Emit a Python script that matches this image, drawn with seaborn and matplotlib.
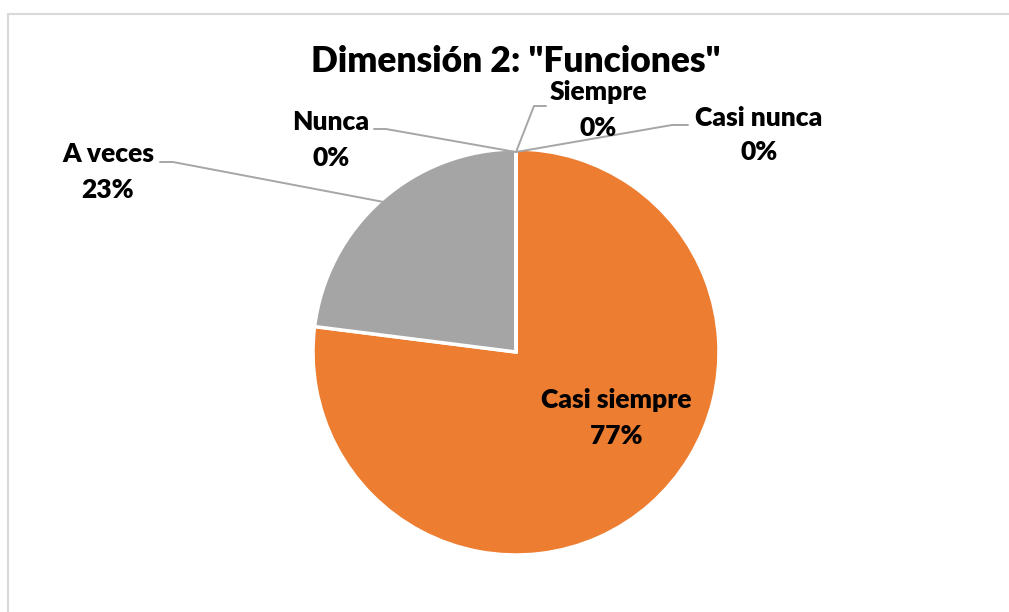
import numpy as np
import matplotlib
matplotlib.use("Agg")
import matplotlib.pyplot as plt
import seaborn as sns
from matplotlib.patches import Rectangle

categories = ["Siempre", "Casi siempre", "A veces", "Casi nunca", "Nunca"]
values = [0, 77, 23, 0, 0]
pct_labels = ["0%", "77%", "23%", "0%", "0%"]
colors = ["#4472C4", "#ED7D31", "#A5A5A5", "#FFC000", "#5B9BD5"]
title = 'Dimensión 2: "Funciones"'

sns.set_theme(style="white")
plt.rcParams["font.family"] = ["Lato", "DejaVu Sans"]

W, H = 1009, 612
fig = plt.figure(figsize=(W / 100, H / 100), dpi=100)
ax = fig.add_axes([0, 0, 1, 1])

# chart border
fig.patches.append(Rectangle((8 / W, -0.1), 1.2, (H - 14) / H + 0.1, transform=fig.transFigure,
                             fill=False, edgecolor="#D9D9D9", linewidth=1.5))

cx, cy, r = 516, H - 352, 203
wedges, _ = ax.pie(values, colors=colors, startangle=90, counterclock=False,
                   center=(cx, cy), radius=r, normalize=True,
                   wedgeprops=dict(edgecolor="white", linewidth=2.5))
ax.set_xlim(0, W)
ax.set_ylim(0, H)
ax.set_aspect("equal")
ax.axis("off")

def px(x, y):
    return x, H - y

ax.text(*px(516, 61), title, ha="center", va="center", fontsize=25.5, fontweight="heavy", color="black")

def mid_point(w, frac=1.0):
    a = np.deg2rad((w.theta1 + w.theta2) / 2)
    return cx + frac * r * np.cos(a), cy + frac * r * np.sin(a)

lab_fs = 19
line_kw = dict(color="#A6A6A6", linewidth=1.4, zorder=1)
label_pos = {
    "Siempre": (598, 110),
    "Casi siempre": (616, 418),
    "A veces": (108, 172),
    "Casi nunca": (759, 135),
    "Nunca": (331, 140),
}
elbows = {
    "Siempre": [(534, 106), (546, 106)],
    "Casi nunca": [(672, 125), (688, 125)],
    "Nunca": [(386, 129), (374, 129)],
    "A veces": [(173, 162), (160, 162)],
}
for w, cat, pl in zip(wedges, categories, pct_labels):
    x, y = label_pos[cat]
    ax.text(*px(x, y), f"{cat}\n{pl}", ha="center", va="center", fontsize=lab_fs,
            fontweight="heavy", color="black", linespacing=1.55, zorder=5)
    if cat in elbows:
        ex, ey = mid_point(w, 0.985)
        pts = [(ex, ey)] + [px(a, b) for a, b in elbows[cat]]
        ax.plot([p[0] for p in pts], [p[1] for p in pts], **line_kw)

fig.savefig("out.png", dpi=100, facecolor="white")
